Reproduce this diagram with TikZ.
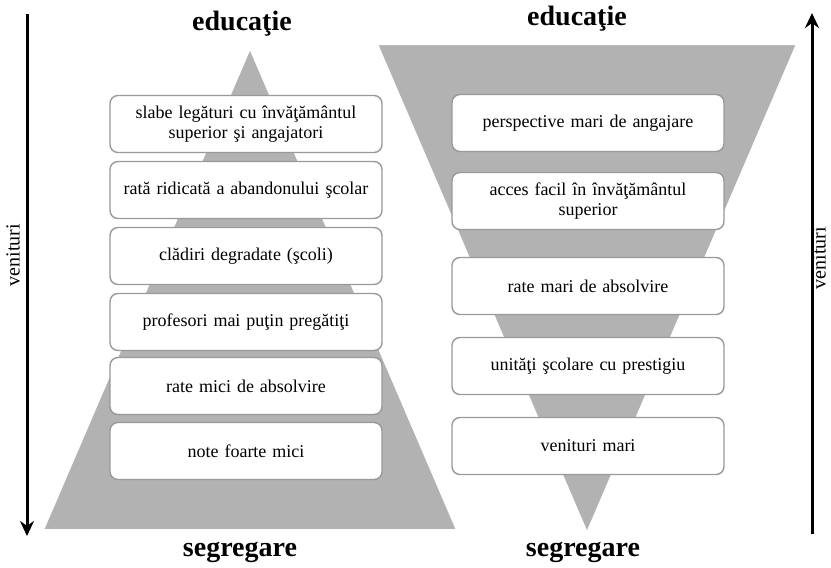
\documentclass[tikz,border=0pt]{standalone}
\usepackage{fontspec}
\setmainfont{Liberation Serif}
\usetikzlibrary{arrows.meta}
\begin{document}
\begin{tikzpicture}[x=1pt,y=-1pt]
    \tikzstyle{level}=[draw=black!40, line width=1.4pt, fill=white, rounded corners=8pt, minimum width=272pt, minimum height=57pt, text width=260pt, align=center, inner sep=2pt, font=\fontsize{18}{20}\selectfont]
    \tikzstyle{pyramid}=[fill=black!30, draw=white, line width=2pt]
    \tikzstyle{heading}=[font=\fontsize{28}{30}\selectfont\bfseries]
    \tikzstyle{axis}=[line width=3pt, -{Stealth[length=15pt,width=14pt]}]
    \tikzstyle{axis label}=[rotate=90, inner sep=0pt, font=\fontsize{20}{21}\selectfont]

    \useasboundingbox (0,0) rectangle (831,568);

    % Draw the two triangles
    \draw[pyramid] (43,530) -- (250,48) -- (457,530) -- cycle;
    \draw[pyramid] (377,44) -- (797,44) -- (587,533) -- cycle;

    % Draw the levels of the left triangle
    \foreach \name / \y / \txt in {1/124/{slabe legături cu învăţământul\\superior şi angajatori},
                                 2/190/{rată ridicată a abandonului şcolar},
                                 3/256/{clădiri degradate (şcoli)},
                                 4/322/{profesori mai puţin pregătiţi},
                                 5/386/{rate mici de absolvire},
                                 6/451/{note foarte mici}}
        \node[level] (low-\name) at (246,\y) {\txt};

    % Draw the levels of the right triangle
    \foreach \name / \y / \txt in {1/123/{perspective mari de angajare},
                                 2/201/{acces facil în învăţământul\\superior},
                                 3/286/{rate mari de absolvire},
                                 4/366/{unităţi şcolare cu prestigiu},
                                 5/446/{venituri mari}}
        \node[level] (high-\name) at (588,\y) {\txt};

    % Annotate the triangles
    \node[heading] (low-top) at (242,24) {educaţie};
    \node[heading] (high-top) at (577,19) {educaţie};
    \node[heading] (low-bottom) at (240,552) {segregare};
    \node[heading] (high-bottom) at (583,552) {segregare};

    % Income arrows on both sides
    \coordinate (L-start) at (27,14);
    \coordinate (L-end) at (27,536);
    \coordinate (R-start) at (812,534);
    \coordinate (R-end) at (812,13);
    \draw[axis] (L-start) -- (L-end);
    \draw[axis] (R-start) -- (R-end);
    \node[axis label] (L-label) at (13,255) {venituri};
    \node[axis label] (R-label) at (819,258) {venituri};
\end{tikzpicture}
\end{document}
